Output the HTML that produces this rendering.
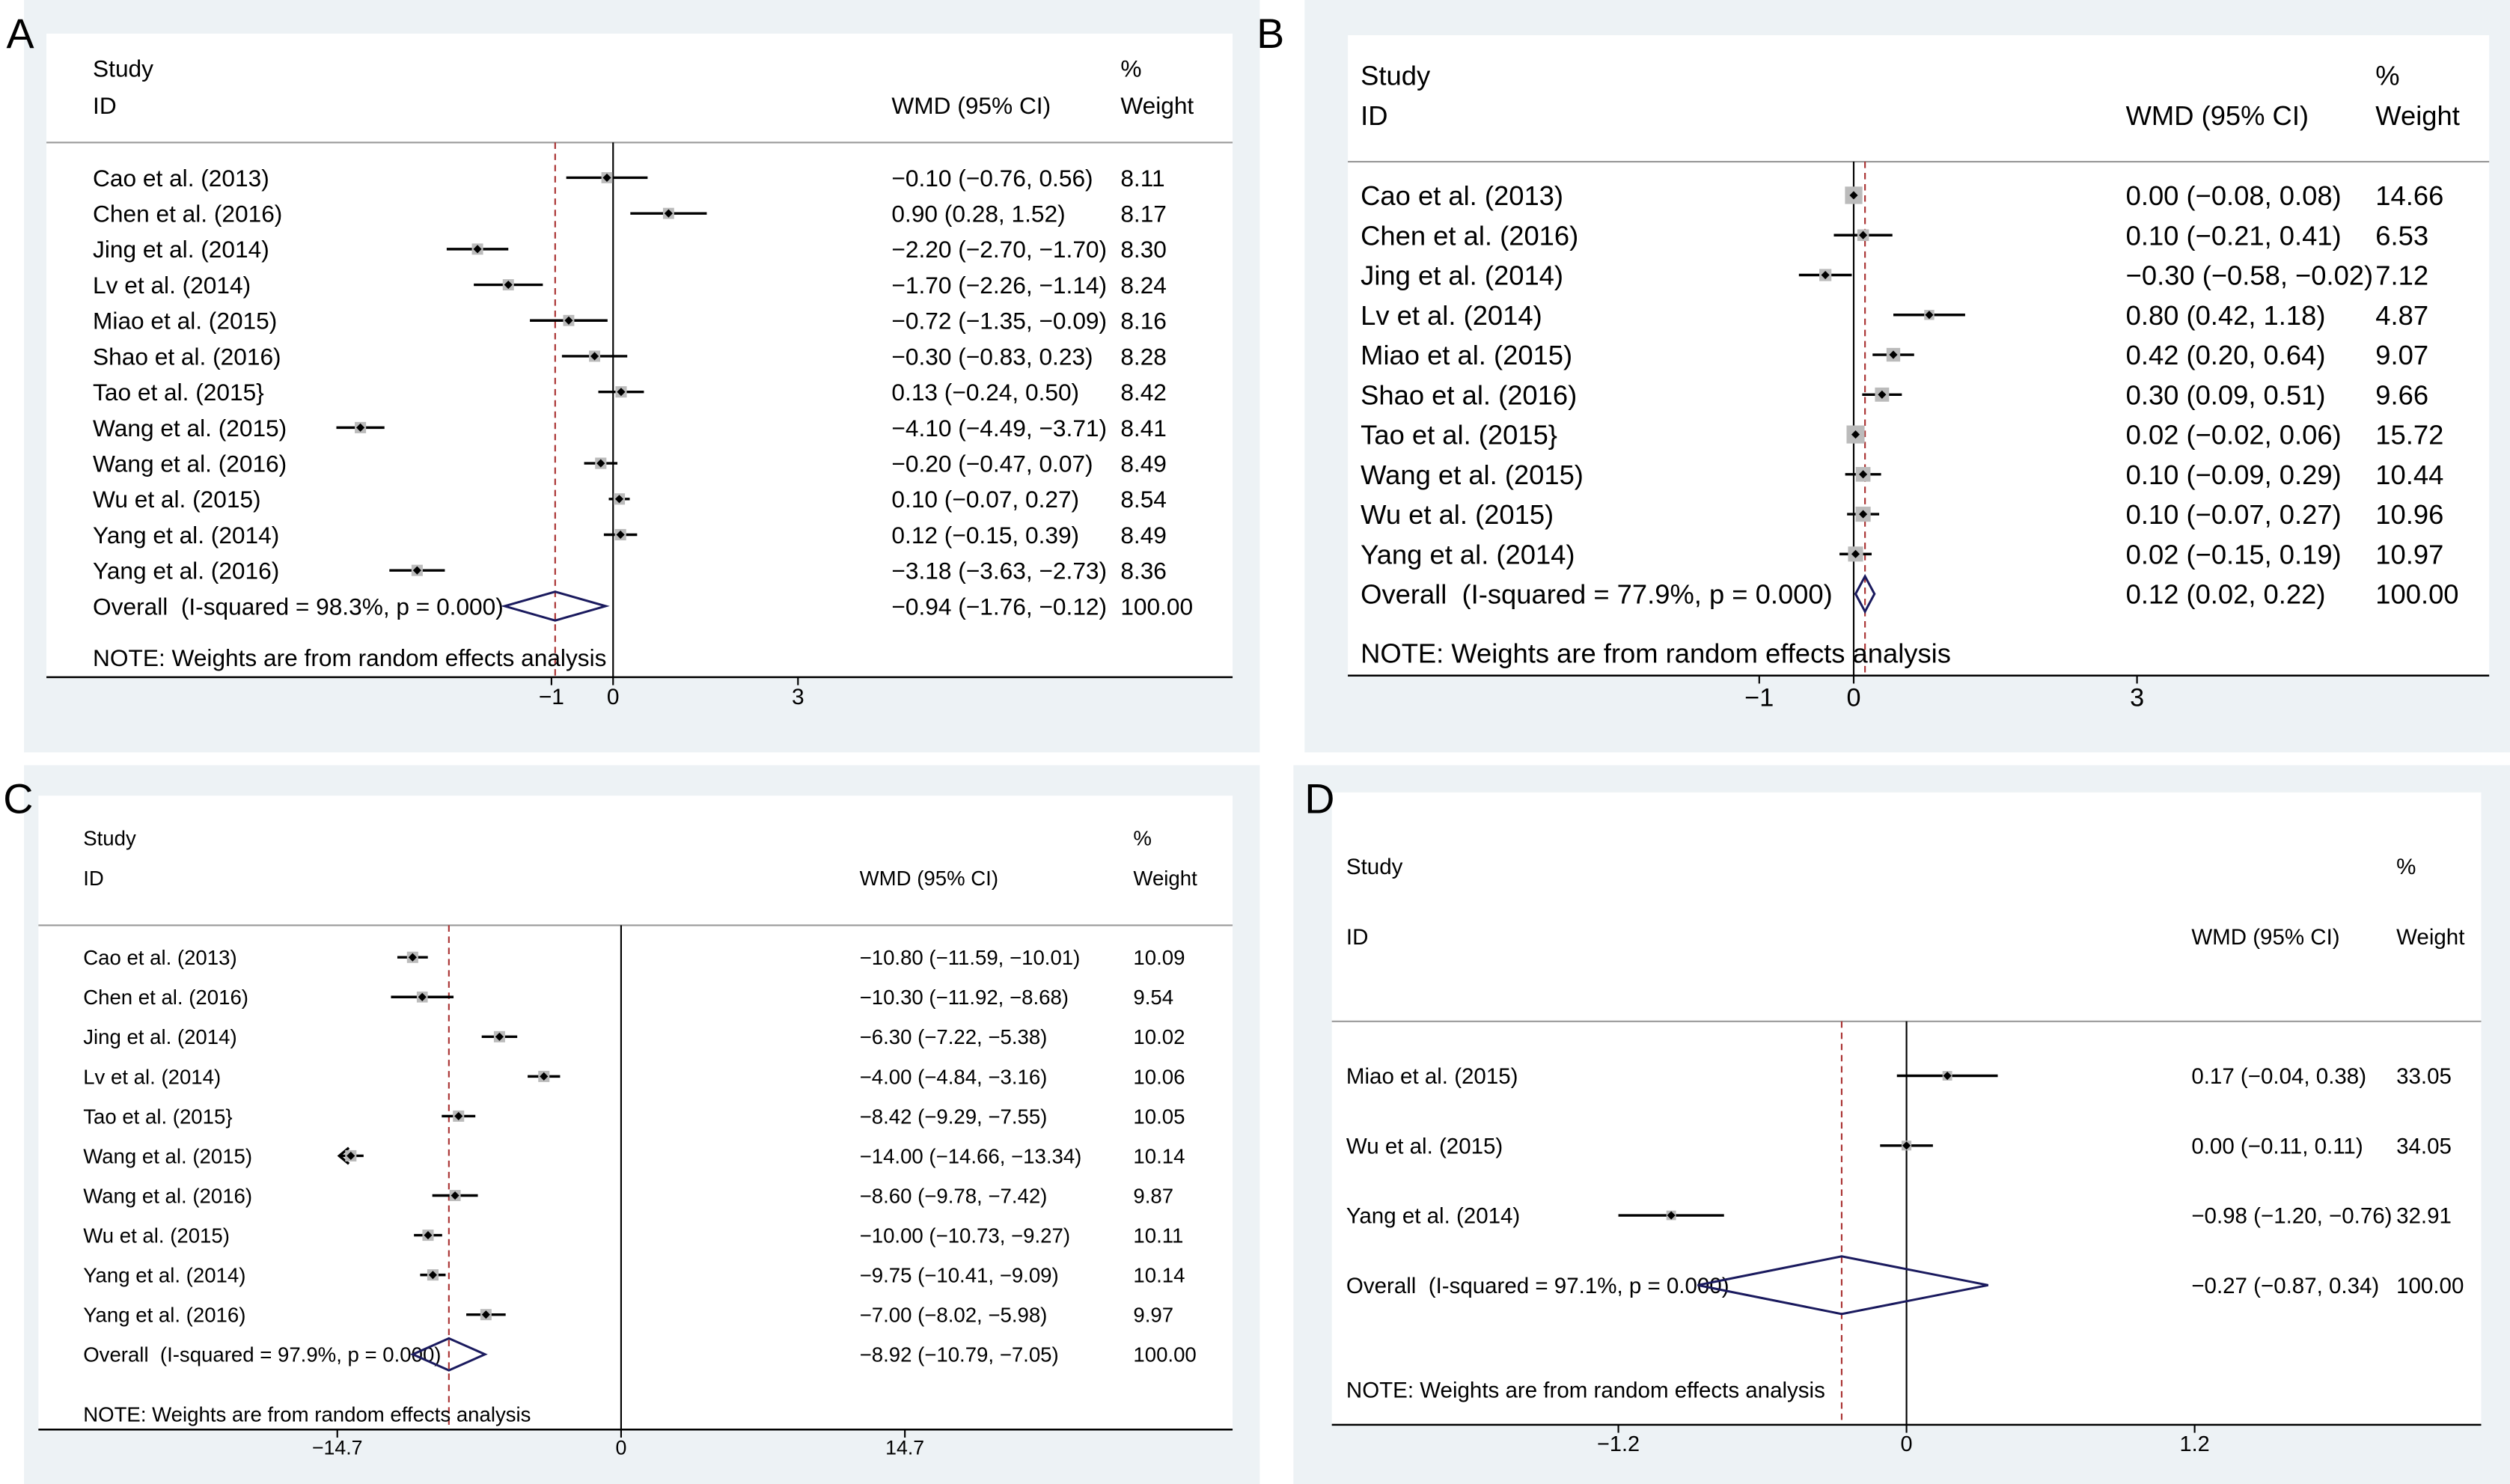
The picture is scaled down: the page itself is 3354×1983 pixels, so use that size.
<!DOCTYPE html>
<html><head><meta charset="utf-8"><style>
html,body{margin:0;padding:0;background:#fff;}
svg{display:block;font-family:"Liberation Sans",Arial,sans-serif;}
svg text{white-space:pre;}
</style></head><body>
<svg id="fig" width="3354" height="1983" viewBox="0 0 1568 927" preserveAspectRatio="none" xmlns="http://www.w3.org/2000/svg" xml:space="preserve"></svg>
<script>
// ---- Panel A data ----
const namesA=["Cao et al. (2013)","Chen et al. (2016)","Jing et al. (2014)","Lv et al. (2014)","Miao et al. (2015)","Shao et al. (2016)","Tao et al. (2015}","Wang et al. (2015)","Wang et al. (2016)","Wu et al. (2015)","Yang et al. (2014)","Yang et al. (2016)"];
const estA=[-0.10,0.90,-2.20,-1.70,-0.72,-0.30,0.13,-4.10,-0.20,0.10,0.12,-3.18];
const loA=[-0.76,0.28,-2.70,-2.26,-1.35,-0.83,-0.24,-4.49,-0.47,-0.07,-0.15,-3.63];
const hiA=[0.56,1.52,-1.70,-1.14,-0.09,0.23,0.50,-3.71,0.07,0.27,0.39,-2.73];
const wA=["8.11","8.17","8.30","8.24","8.16","8.28","8.42","8.41","8.49","8.54","8.49","8.36"];
const overallA=[-0.94,-1.76,-0.12];
const ticksA=[-1,0,3];
// ---- Panel B data ----
const namesB=["Cao et al. (2013)","Chen et al. (2016)","Jing et al. (2014)","Lv et al. (2014)","Miao et al. (2015)","Shao et al. (2016)","Tao et al. (2015}","Wang et al. (2015)","Wu et al. (2015)","Yang et al. (2014)"];
const estB=[0.00,0.10,-0.30,0.80,0.42,0.30,0.02,0.10,0.10,0.02];
const loB=[-0.08,-0.21,-0.58,0.42,0.20,0.09,-0.02,-0.09,-0.07,-0.15];
const hiB=[0.08,0.41,-0.02,1.18,0.64,0.51,0.06,0.29,0.27,0.19];
const wB=["14.66","6.53","7.12","4.87","9.07","9.66","15.72","10.44","10.96","10.97"];
const overallB=[0.12,0.02,0.22];
const ticksB=[-1,0,3];
// ---- Panel C data ----
const namesC=["Cao et al. (2013)","Chen et al. (2016)","Jing et al. (2014)","Lv et al. (2014)","Tao et al. (2015}","Wang et al. (2015)","Wang et al. (2016)","Wu et al. (2015)","Yang et al. (2014)","Yang et al. (2016)"];
const estC=[-10.80,-10.30,-6.30,-4.00,-8.42,-14.00,-8.60,-10.00,-9.75,-7.00];
const loC=[-11.59,-11.92,-7.22,-4.84,-9.29,-14.66,-9.78,-10.73,-10.41,-8.02];
const hiC=[-10.01,-8.68,-5.38,-3.16,-7.55,-13.34,-7.42,-9.27,-9.09,-5.98];
const wC=["10.09","9.54","10.02","10.06","10.05","10.14","9.87","10.11","10.14","9.97"];
const overallC=[-8.92,-10.79,-7.05];
const ticksC=[-14.7,0,14.7];
// ---- Panel D data ----
const namesD=["Miao et al. (2015)","Wu et al. (2015)","Yang et al. (2014)"];
const estD=[0.17,0.00,-0.98];
const loD=[-0.04,-0.11,-1.20];
const hiD=[0.38,0.11,-0.76];
const wD=["33.05","34.05","32.91"];
const overallD=[-0.27,-0.87,0.34];
const ticksD=[-1.2,0,1.2];

const NS="http://www.w3.org/2000/svg";
const svg=document.getElementById('fig');
function mk(tag,attrs,parent,text){const e=document.createElementNS(NS,tag);for(const k in attrs)e.setAttribute(k,attrs[k]);if(text!==undefined)e.textContent=text;(parent||svg).appendChild(e);return e;}
function fmt(v){return (v<0?"\u2212":"")+Math.abs(v).toFixed(2);}

function panel(cfg){
  const g=mk('g',{});
  
  
  const bg=mk('rect',{x:cfg.ox,y:cfg.oy,width:cfg.ow,height:cfg.oh,fill:'#edf2f5'},g);
  
  
  const wb=mk('rect',{x:cfg.ix,y:cfg.iy,width:cfg.iw,height:cfg.axisY-cfg.iy,fill:'#fff'},g);
  
  
  const lab=mk('text',{x:cfg.lx,y:cfg.ly,'font-size':26,fill:'#000'},g,cfg.id);
  
  
  const fs=cfg.fs;
  const sx=v=>cfg.x0+v*cfg.k;
  const h1=mk('text',{x:cfg.tx,y:cfg.h1,'font-size':fs},g,'Study');
  
  const h2=mk('text',{x:cfg.tx,y:cfg.h2,'font-size':fs},g,'ID');
  
  const h3=mk('text',{x:cfg.cx,y:cfg.h2,'font-size':fs},g,'WMD (95% CI)');
  
  const h4=mk('text',{x:cfg.wx,y:cfg.h1,'font-size':fs},g,'%');
  
  const h5=mk('text',{x:cfg.wx,y:cfg.h2,'font-size':fs},g,'Weight');
  
  const sep=mk('line',{x1:cfg.ix,x2:cfg.ix+cfg.iw,y1:cfg.sepY,y2:cfg.sepY,stroke:'#999','stroke-width':1},g);
  
  const nl=mk('line',{x1:sx(0),x2:sx(0),y1:cfg.sepY,y2:cfg.axisY,stroke:'#000','stroke-width':1},g);
  
  const dl=mk('line',{x1:sx(cfg.ov[0]),x2:sx(cfg.ov[0]),y1:cfg.sepY,y2:cfg.axisY,stroke:'#a33','stroke-width':1,'stroke-dasharray':'4,3'},g);
  
  for(let i=0;i<cfg.names.length;i++){
    const y=cfg.r0+i*cfg.dr;
    const t=mk('text',{x:cfg.tx,y:y+fs*0.36,'font-size':fs},g,cfg.names[i]);
    
    let lo=cfg.lo[i],hi=cfg.hi[i];
    const clipped=lo<cfg.xmin;
    if(clipped) lo=cfg.xmin;
    const ci=mk('line',{x1:sx(lo),x2:sx(hi),y1:y,y2:y,stroke:'#000','stroke-width':1.6},g);
    
    if(clipped){
      const ar=mk('polyline',{points:`${sx(lo)+6},${y-5} ${sx(lo)},${y} ${sx(lo)+6},${y+5}`,fill:'none',stroke:'#000','stroke-width':1.6},g);
      
    }
    const s=cfg.sq*Math.sqrt(parseFloat(cfg.w[i])/cfg.wref);
    const px=sx(cfg.est[i]);
    const sq=mk('rect',{x:px-s/2,y:y-s/2,width:s,height:s,fill:'#bbb'},g);
    
    const d=2.6;
    const pt=mk('polygon',{points:`${px-d},${y} ${px},${y-d} ${px+d},${y} ${px},${y+d}`,fill:'#000'},g);
    
    const c=mk('text',{x:cfg.cx,y:y+fs*0.36,'font-size':fs},g,`${fmt(cfg.est[i])} (${fmt(cfg.lo[i])}, ${fmt(cfg.hi[i])})`);
    
    const w=mk('text',{x:cfg.wx,y:y+fs*0.36,'font-size':fs},g,cfg.w[i]);
    
  }
  const oy=cfg.r0+cfg.names.length*cfg.dr;
  const ot=mk('text',{x:cfg.tx,y:oy+fs*0.36,'font-size':fs},g,cfg.otext);
  
  const dh=cfg.dh;
  const dm=mk('polygon',{points:`${sx(cfg.ov[1])},${oy} ${sx(cfg.ov[0])},${oy-dh} ${sx(cfg.ov[2])},${oy} ${sx(cfg.ov[0])},${oy+dh}`,fill:'none',stroke:'#1a1a5e','stroke-width':1.4},g);
  
  const oc=mk('text',{x:cfg.cx,y:oy+fs*0.36,'font-size':fs},g,`${fmt(cfg.ov[0])} (${fmt(cfg.ov[1])}, ${fmt(cfg.ov[2])})`);
  
  const ow=mk('text',{x:cfg.wx,y:oy+fs*0.36,'font-size':fs},g,'100.00');
  
  const nt=mk('text',{x:cfg.tx,y:cfg.noteY,'font-size':fs},g,'NOTE: Weights are from random effects analysis');
  
  const ax=mk('line',{x1:cfg.ix,x2:cfg.ix+cfg.iw,y1:cfg.axisY,y2:cfg.axisY,stroke:'#000','stroke-width':1.2},g);
  
  cfg.ticks.forEach(tv=>{
    const tk=mk('line',{x1:sx(tv),x2:sx(tv),y1:cfg.axisY,y2:cfg.axisY+5,stroke:'#000','stroke-width':1},g);
    
    const tl=mk('text',{x:sx(tv),y:cfg.axisY+cfg.tfs+3,'font-size':cfg.tfs,'text-anchor':'middle'},g,(tv<0?"\u2212":"")+Math.abs(tv));
    
  });
}

panel({id:'A',ox:15,oy:0,ow:772,oh:470,ix:29,iy:21,iw:741,axisY:423,lx:4,ly:30,fs:14.8,tfs:14,
  x0:383,k:38.5,tx:58,cx:557,wx:700,h1:48,h2:71,sepY:89,r0:111,dr:22.3,noteY:416,
  names:namesA,est:estA,lo:loA,hi:hiA,w:wA,ov:overallA,ticks:ticksA,sq:7,wref:8.3,dh:9,xmin:-10,
  otext:'Overall  (I-squared = 98.3%, p = 0.000)'});
panel({id:'B',ox:815,oy:0,ow:753,oh:470,ix:842,iy:22,iw:713,axisY:422,lx:785,ly:30,fs:17,tfs:16,
  x0:1158,k:59,tx:850,cx:1328,wx:1484,h1:53,h2:78,sepY:101,r0:122,dr:24.9,noteY:414,
  names:namesB,est:estB,lo:loB,hi:hiB,w:wB,ov:overallB,ticks:ticksB,sq:11,wref:15,dh:11,xmin:-10,
  otext:'Overall  (I-squared = 77.9%, p = 0.000)'});
panel({id:'C',ox:15,oy:478,ow:772,oh:449,ix:24,iy:497,iw:746,axisY:893,lx:2,ly:508,fs:12.9,tfs:12.5,
  x0:388,k:12.06,tx:52,cx:537,wx:708,h1:528,h2:553,sepY:578,r0:598,dr:24.8,noteY:888,
  names:namesC,est:estC,lo:loC,hi:hiC,w:wC,ov:overallC,ticks:ticksC,sq:7,wref:10,dh:10,xmin:-14.6,
  otext:'Overall  (I-squared = 97.9%, p = 0.000)'});
panel({id:'D',ox:808,oy:478,ow:760,oh:449,ix:832,iy:495,iw:718,axisY:890,lx:815,ly:508,fs:13.8,tfs:13.5,
  x0:1191,k:150,tx:841,cx:1369,wx:1497,h1:546,h2:590,sepY:638,r0:672,dr:43.6,noteY:873,
  names:namesD,est:estD,lo:loD,hi:hiD,w:wD,ov:overallD,ticks:ticksD,sq:6,wref:33,dh:18,xmin:-10,
  otext:'Overall  (I-squared = 97.1%, p = 0.000)'});
</script>
</body></html>
